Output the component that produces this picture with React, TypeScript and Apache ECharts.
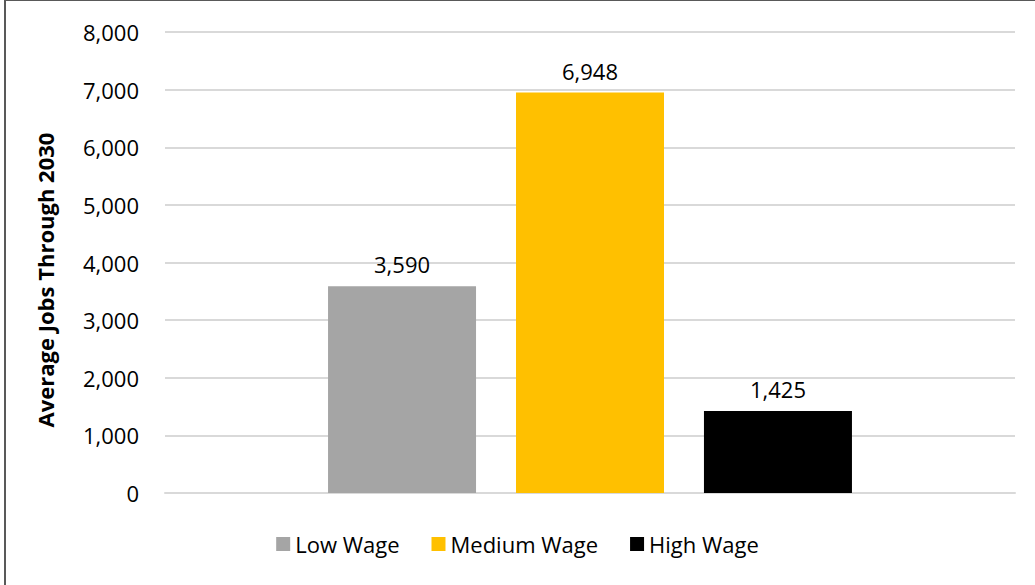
import React, { useEffect, useRef } from "react";
import * as echarts from "echarts";

const categories = ["Jobs"];
const seriesNames = ["Low Wage", "Medium Wage", "High Wage"];
const seriesValues = [3590, 6948, 1425];
const seriesColors = ["#A5A5A5", "#FFC000", "#000000"];
const yTitle = "Average Jobs Through 2030";

const FONT = "'Open Sans', 'Noto Sans', sans-serif";
const FS = 22;

export default function App() {
  const ref = useRef<HTMLDivElement>(null);
  useEffect(() => {
    document.body.style.margin = "0";
    const chart = echarts.init(ref.current!, null, { renderer: "svg" });
    chart.setOption({
      animation: false,
      backgroundColor: "#ffffff",
      textStyle: { fontFamily: FONT },
      grid: { left: 165, right: 20, top: 32, bottom: 92, containLabel: false },
      legend: {
        data: seriesNames,
        bottom: 25,
        left: "center",
        itemWidth: 14,
        itemHeight: 14,
        itemGap: 32,
        icon: "rect",
        textStyle: { fontFamily: FONT, fontSize: FS, color: "#000" },
      },
      xAxis: {
        type: "category",
        data: categories,
        axisLine: { show: true, lineStyle: { color: "#D9D9D9", width: 2 } },
        axisTick: { show: false },
        axisLabel: { show: false },
      },
      yAxis: {
        type: "value",
        min: 0,
        max: 8000,
        interval: 1000,
        axisLine: { show: false },
        axisTick: { show: false },
        splitLine: { lineStyle: { color: "#D9D9D9", width: 2 } },
        axisLabel: {
          margin: 26,
          fontFamily: FONT,
          fontSize: FS,
          color: "#000",
          formatter: (v: number) => v.toLocaleString("en-US"),
        },
      },
      series: seriesNames.map((name, i) => ({
        name,
        type: "bar",
        data: [seriesValues[i]],
        barWidth: 148,
        barGap: "27%",
        itemStyle: { color: seriesColors[i] },
        label: {
          show: true,
          position: "top",
          distance: 11,
          fontFamily: FONT,
          fontSize: FS,
          color: "#000",
          formatter: (p: any) => Number(p.value).toLocaleString("en-US"),
        },
      })),
      graphic: [
        {
          type: "rect",
          shape: { x: 5, y: 0, width: 1100, height: 700 },
          style: { fill: "none", stroke: "#595959", lineWidth: 2 },
          silent: true,
        },
        {
          type: "text",
          x: 45,
          y: 280,
          rotation: Math.PI / 2,
          style: {
            text: yTitle,
            fontFamily: FONT,
            fontSize: FS,
            fontWeight: "bold",
            fill: "#000",
            align: "center",
            verticalAlign: "middle",
          },
        },
      ],
    });
    return () => chart.dispose();
  }, []);
  return (
    <div
      ref={ref}
      style={{ position: "fixed", left: 0, top: 0, width: 1035, height: 585 }}
    />
  );
}
